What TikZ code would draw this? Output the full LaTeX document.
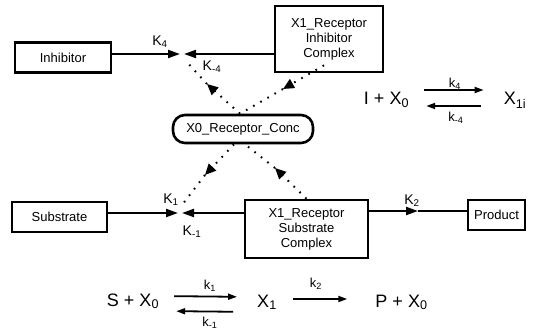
\documentclass[tikz,border=0pt]{standalone}
\usepackage{fontspec}
\setmainfont{Liberation Sans}
\usepackage{tikz}
\usetikzlibrary{arrows.meta}
\tikzset{box/.style = {draw, line width = 2.6pt, align = center, inner sep = 0pt, font = \fontsize{13}{15}\selectfont}}
\tikzset{pill/.style = {box, rounded corners = 12pt}}
\tikzset{link/.style = {line width = 2pt, -{Triangle[length = 12pt, width = 8pt]}}}
\tikzset{dots/.style = {line width = 2pt, dash pattern = on 1.6pt off 6.6pt}}
\tikzset{tip/.style = {-{Triangle[length = 11pt, width = 10pt]}}}
\tikzset{rate/.style = {font = \fontsize{14}{16}\selectfont}}
\tikzset{small/.style = {font = \fontsize{13}{15}\selectfont}}
\tikzset{eqn/.style = {inner sep = 0pt, font = \fontsize{18}{20}\selectfont}}
\tikzset{rxn/.style = {line width = 1.8pt, -{Triangle[length = 9pt, width = 6pt]}}}

\begin{document}
\begin{tikzpicture}[x = 1pt, y = -1pt]
			\useasboundingbox (0, 0) rectangle (534, 331);

			\node[box, minimum width = 96pt, minimum height = 30pt] (inhib) at (63, 57.5) {Inhibitor};
			\node[box, minimum width = 108pt, minimum height = 66pt] (cpxI) at (329, 39) {X1\_Receptor\\Inhibitor\\Complex};
			\node[pill, minimum width = 140pt, minimum height = 28pt] (x0) at (243, 129) {X0\_Receptor\_Conc};
			\node[box, minimum width = 95pt, minimum height = 30pt] (subst) at (59.5, 217) {Substrate};
			\node[box, minimum width = 123pt, minimum height = 58pt] (cpxS) at (306.5, 229) {X1\_Receptor\\Substrate\\Complex};
			\node[box, minimum width = 57pt, minimum height = 30pt] (prod) at (496.5, 215) {Product};

			\coordinate (k4) at (180, 54);
			\coordinate (km4) at (184, 54);
			\coordinate (k1) at (178, 213);
			\coordinate (km1) at (182, 213);
			\coordinate (k2) at (418, 211);

			\draw[link] (inhib.east |- k4) to (k4);
			\draw[link] (cpxI.west |- km4) to (km4);
			\draw[link] (subst.east |- k1) to (k1);
			\draw[link] (cpxS.west |- km1) to (km1);
			\draw[link] (cpxS.east |- k2) to (k2);
			\draw[line width = 2pt] (k2) to (prod.west |- k2);

			% dotted links to the receptor pool
			\coordinate (tipA) at (207, 84);
			\coordinate (endA) at (185, 60);
			\coordinate (tipB) at (283, 89);
			\coordinate (tipC) at (205, 175);
			\coordinate (endC) at (182, 205);
			\coordinate (tipD) at (275, 168);

			\draw[dots, tip] ([xshift = -3pt]x0.north) to (tipA);
			\draw[dots] (tipA) to (endA);
			\draw[dots, tip] ([xshift = -5pt, yshift = 8pt]cpxI.south) to (tipB);
			\draw[dots] (tipB) to ([xshift = -3pt]x0.north);
			\draw[dots, tip] ([xshift = -9pt]x0.south) to (tipC);
			\draw[dots] (tipC) to (endC);
			\draw[dots, tip] (cpxS.north) to (tipD);
			\draw[dots] (tipD) to ([xshift = 2pt]x0.south);

			\node[rate] (lk4) at (160, 42) {K\textsubscript{4}};
			\node[rate] (lkm4) at (212, 67) {K\textsubscript{-4}};
			\node[rate] (lk1) at (171, 200) {K\textsubscript{1}};
			\node[rate] (lkm1) at (192, 232) {K\textsubscript{-1}};
			\node[rate] (lk2) at (412, 201) {K\textsubscript{2}};

			% reaction schemes
			\node[eqn, anchor = base] (rI) at (386.5, 105) {I + X\textsubscript{0}};
			\node[eqn, anchor = base] (rXi) at (515, 105) {X\textsubscript{1i}};
			\draw[rxn, shorten <= 15pt, shorten >= 20pt] ([yshift = 15pt]rI.base east) to ([yshift = 15pt]rXi.base west);
			\draw[rxn, shorten <= 23pt, shorten >= 17pt] ([yshift = -1pt]rXi.base west) to ([yshift = -1pt]rI.base east);
			\node[small] (rk4) at (455, 84) {k\textsubscript{4}};
			\node[small] (rkm4) at (456, 118) {k\textsubscript{-4}};

			\node[eqn, anchor = base] (rS) at (133, 306) {S + X\textsubscript{0}};
			\node[eqn, anchor = base] (rX) at (267, 307) {X\textsubscript{1}};
			\node[eqn, anchor = base] (rP) at (401.5, 307) {P + X\textsubscript{0}};
			\draw[rxn, shorten <= 15pt, shorten >= 20pt] ([yshift = 10pt]rS.base east) to ([yshift = 10pt]rX.base west);
			\draw[rxn, shorten <= 24pt, shorten >= 17pt] ([yshift = -5pt]rX.base west) to ([yshift = -5pt]rS.base east);
			\draw[rxn, shorten <= 16pt, shorten >= 28pt] ([yshift = 8pt]rX.base east) to ([yshift = 8pt]rP.base west);
			\node[small] (rk1) at (210, 286) {k\textsubscript{1}};
			\node[small] (rkm1) at (210, 323) {k\textsubscript{-1}};
			\node[small] (rk2) at (316, 284) {k\textsubscript{2}};
		\end{tikzpicture}
\end{document}
